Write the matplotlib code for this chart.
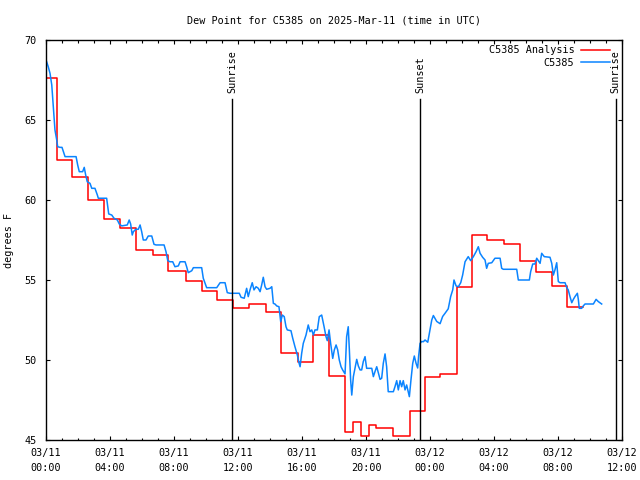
import matplotlib
matplotlib.use("Agg")
import matplotlib.pyplot as plt
from matplotlib.ticker import MultipleLocator

# ---- data (hours since 2025-03-11 00:00 UTC, degrees F) ----
obs_hours = [0.04, 0.14, 0.25, 0.36, 0.46, 0.56, 0.67, 0.73, 0.88, 1.0, 1.19, 1.88, 1.98, 2.08, 2.29,
             2.39, 2.48, 2.58, 2.75, 2.86, 3.06, 3.21, 3.27, 3.79, 3.86, 3.92, 4.11, 4.25, 4.46, 4.58,
             4.73, 5.08, 5.2, 5.29, 5.39, 5.46, 5.61, 5.77, 5.88, 5.98, 6.08, 6.25, 6.39, 6.61, 6.75,
             6.88, 7.38, 7.5, 7.61, 7.75, 7.92, 8.06, 8.27, 8.38, 8.69, 8.79, 8.89, 9.11, 9.21, 9.73,
             9.83, 9.94, 10.04, 10.67, 10.88, 11.19, 11.33, 11.5, 12.08, 12.19, 12.39, 12.54, 12.64, 12.75, 12.89,
             13.0, 13.13, 13.27, 13.38, 13.48, 13.58, 13.69, 13.79, 14.0, 14.11, 14.21, 14.31, 14.42, 14.56, 14.67,
             14.77, 14.89, 15.0, 15.08, 15.31, 15.42, 15.56, 15.71, 15.81, 15.88, 15.98, 16.08, 16.25, 16.39, 16.5,
             16.61, 16.71, 16.81, 16.96, 17.08, 17.23, 17.38, 17.5, 17.58, 17.69, 17.79, 17.92, 18.02, 18.13, 18.23,
             18.33, 18.44, 18.54, 18.69, 18.79, 18.89, 18.96, 19.04, 19.11, 19.21, 19.31, 19.42, 19.52, 19.63, 19.73,
             19.83, 19.94, 20.04, 20.36, 20.46, 20.56, 20.67, 20.77, 20.88, 20.98, 21.08, 21.19, 21.29, 21.39, 21.71,
             21.81, 21.92, 22.02, 22.13, 22.23, 22.33, 22.44, 22.54, 22.64, 22.71, 22.81, 22.92, 23.02, 23.13, 23.23,
             23.29, 23.38, 23.48, 23.58, 23.69, 23.86, 24.0, 24.11, 24.21, 24.42, 24.63, 24.79, 24.94, 25.14, 25.29,
             25.42, 25.5, 25.63, 25.77, 25.92, 26.04, 26.19, 26.39, 26.54, 26.71, 26.88, 27.02, 27.13, 27.29, 27.44,
             27.54, 27.64, 27.86, 28.06, 28.38, 28.48, 28.58, 29.42, 29.52, 30.21, 30.29, 30.42, 30.56, 30.67, 30.77,
             30.88, 30.98, 31.14, 31.5, 31.61, 31.71, 31.81, 31.92, 32.02, 32.13, 32.44, 32.54, 32.64, 32.75, 32.86,
             32.96, 33.06, 33.21, 33.27, 33.33, 33.48, 33.58, 33.69, 34.21, 34.38, 34.52, 34.73]
obs_dewpt = [68.64, 68.33, 67.92, 67.19, 65.83, 64.38, 63.75, 63.33, 63.29, 63.29, 62.71, 62.71, 62.19, 61.77, 61.77,
             62.04, 61.56, 61.14, 61.04, 60.73, 60.73, 60.31, 60.11, 60.11, 59.58, 59.13, 59.06, 58.86, 58.75, 58.5,
             58.38, 58.44, 58.75, 58.5, 57.81, 58.02, 58.17, 58.17, 58.44, 58.02, 57.5, 57.5, 57.75, 57.75, 57.23,
             57.19, 57.19, 56.77, 56.21, 56.14, 56.14, 55.83, 55.88, 56.14, 56.14, 55.83, 55.46, 55.58, 55.77, 55.77,
             55.11, 54.79, 54.52, 54.52, 54.83, 54.83, 54.21, 54.17, 54.17, 53.92, 53.86, 54.48, 53.96, 54.38, 54.83,
             54.38, 54.58, 54.48, 54.27, 54.69, 55.17, 54.58, 54.42, 54.48, 54.58, 53.54, 53.5, 53.38, 53.33, 52.39,
             52.81, 52.71, 52.08, 51.88, 51.83, 51.36, 50.83, 50.31, 49.83, 49.58, 50.42, 51.04, 51.56, 52.19, 51.77,
             51.88, 51.56, 51.88, 51.88, 52.71, 52.81, 52.08, 51.46, 51.21, 51.88, 51.04, 50.1, 50.63, 50.94, 50.63,
             50.0, 49.58, 49.38, 49.13, 51.46, 52.08, 50.63, 48.75, 47.81, 48.96, 49.48, 50.04, 49.63, 49.38, 49.38,
             49.9, 50.21, 49.48, 49.48, 48.96, 49.27, 49.58, 49.21, 48.79, 48.86, 49.79, 50.38, 49.58, 48.02, 48.02,
             48.33, 48.71, 48.13, 48.71, 48.33, 48.71, 48.13, 48.44, 48.02, 47.71, 48.75, 49.79, 50.25, 49.79, 49.5,
             50.25, 51.04, 51.16, 51.14, 51.25, 51.11, 51.88, 52.5, 52.78, 52.41, 52.27, 52.72, 52.92, 53.2, 53.96,
             54.38, 55.0, 54.63, 54.58, 54.83, 55.31, 56.14, 56.46, 56.21, 56.46, 56.77, 57.08, 56.67, 56.42, 56.25,
             55.73, 56.04, 56.08, 56.36, 56.36, 55.73, 55.67, 55.67, 55.0, 55.0, 55.52, 56.0, 56.0, 56.36, 56.21,
             56.04, 56.67, 56.46, 56.42, 56.04, 55.31, 55.63, 56.08, 54.9, 54.83, 54.83, 54.54, 54.38, 53.96, 53.58,
             53.79, 53.96, 54.17, 53.79, 53.23, 53.23, 53.38, 53.5, 53.5, 53.79, 53.65, 53.5]

ana_hours = [0.0, 0.7, 1.65, 2.6, 3.62, 4.65, 5.6, 6.7, 7.62, 8.73, 9.73, 10.71, 11.67, 12.69, 13.73,
             14.69, 15.73, 16.71, 17.71, 18.71, 19.17, 19.69, 20.19, 20.63, 21.69, 22.72, 23.69, 24.63, 25.69, 26.63,
             27.59, 28.63, 29.63, 30.63, 31.63, 32.59, 33.58]
ana_dewpt = [67.6, 62.5, 61.46, 60.0, 58.8, 58.27, 56.9, 56.56, 55.56, 54.94, 54.31, 53.75, 53.23, 53.48, 52.98,
             50.42, 49.86, 51.54, 49.02, 45.52, 46.14, 45.27, 45.96, 45.77, 45.25, 46.81, 48.92, 49.12, 54.58, 57.81,
             57.5, 57.25, 56.17, 55.48, 54.6, 53.29, 53.29]

sun_hours = [11.64, 23.39, 35.61]
sun_labels = ["Sunrise", "Sunset", "Sunrise"]

tick_hours = [0, 4, 8, 12, 16, 20, 24, 28, 32, 36]
tick_labels = ["03/11\n00:00", "03/11\n04:00", "03/11\n08:00", "03/11\n12:00", "03/11\n16:00",
               "03/11\n20:00", "03/12\n00:00", "03/12\n04:00", "03/12\n08:00", "03/12\n12:00"]

title = "Dew Point for C5385 on 2025-Mar-11 (time in UTC)"

# ---- plot ----
FONT = "DejaVu Sans Mono"
FS = 7.3
plt.rcParams["font.family"] = [FONT, "DejaVu Sans"]
plt.rcParams["font.size"] = FS

fig = plt.figure(figsize=(6.4, 4.8), dpi=100)
ax = fig.add_axes([46 / 640, 1 - 440 / 480, 576 / 640, 400 / 480])

ax.plot(ana_hours, ana_dewpt, color="#ff0000", lw=1.1, drawstyle="steps-post", label="C5385 Analysis")
ax.plot(obs_hours, obs_dewpt, color="#0a84ff", lw=1.1, label="C5385")

for h, lab in zip(sun_hours, sun_labels):
    ax.plot([h, h], [45, 66.31], color="black", lw=1.0)
    ax.text(h, 66.7, lab, rotation=90, ha="center", va="bottom", fontsize=FS)

ax.set_xlim(0, 36)
ax.set_ylim(45, 70)
ax.set_xticks(tick_hours)
ax.set_xticklabels(tick_labels, linespacing=1.55)
ax.xaxis.set_minor_locator(MultipleLocator(1))
ax.set_yticks([45, 50, 55, 60, 65, 70])
ax.tick_params(which="both", direction="in", top=True, right=True, labelsize=FS, width=0.8)
ax.tick_params(which="major", length=3.2)
ax.tick_params(which="minor", length=1.8)
ax.tick_params(axis="x", pad=6)
ax.tick_params(axis="y", pad=7)
for s in ax.spines.values():
    s.set_linewidth(1.0)

ax.set_ylabel("degrees F", fontsize=FS, labelpad=7)
ax.set_title(title, fontsize=FS, pad=12)

leg = ax.legend(loc="upper right", bbox_to_anchor=(1 - 7 / 576, 1), frameon=False, markerfirst=False,
                fontsize=FS, handlelength=2.9, handletextpad=0.6, labelspacing=0.25,
                borderaxespad=0.4, borderpad=0.1)

fig.savefig("out.png", dpi=100)
